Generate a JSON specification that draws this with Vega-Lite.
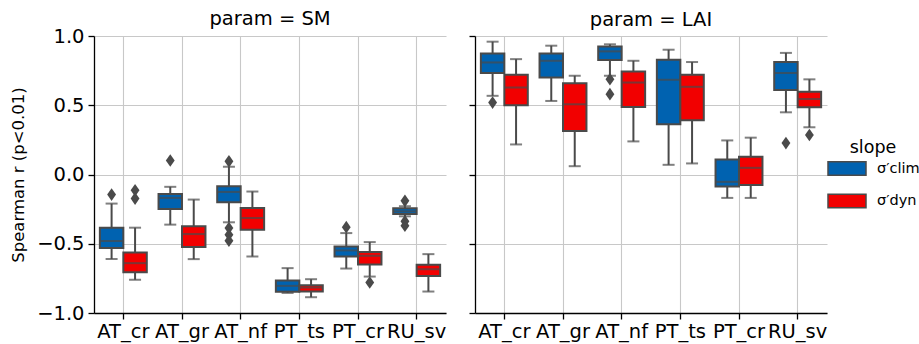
{
  "$schema": "https://vega.github.io/schema/vega-lite/v6.json",
  "padding": {"left": 10, "top": 8, "right": 0, "bottom": 6},
  "config": {
    "font": "DejaVu Sans",
    "view": {"stroke": null},
    "axis": {
      "labelFont": "DejaVu Sans", "titleFont": "DejaVu Sans",
      "labelFontSize": 19.5, "labelColor": "#000000",
      "domainColor": "#000000", "domainWidth": 1.3,
      "tickColor": "#000000", "tickWidth": 1.3, "tickSize": 6,
      "gridColor": "#c8c8c8", "gridWidth": 1.1,
      "titleFontSize": 16.5, "titleFontWeight": "normal", "titleColor": "#000000"
    },
    "title": {"fontSize": 19.5, "fontWeight": "normal", "font": "DejaVu Sans", "color": "#000000"},
    "legend": {"titleFontSize": 17.5, "titleFontWeight": "normal", "labelFontSize": 14.5, "labelFont": "DejaVu Sans", "titleFont": "DejaVu Sans", "titleColor": "#000000", "labelColor": "#000000"}
  },
  "datasets": {
    "stats": [
      {"param": "SM", "site": "AT_cr", "slope": "clim", "lo": -0.61, "q1": -0.53, "med": -0.48, "q3": -0.385, "hi": -0.21},
      {"param": "SM", "site": "AT_cr", "slope": "dyn", "lo": -0.76, "q1": -0.705, "med": -0.64, "q3": -0.563, "hi": -0.384},
      {"param": "SM", "site": "AT_gr", "slope": "clim", "lo": -0.362, "q1": -0.249, "med": -0.169, "q3": -0.14, "hi": -0.089},
      {"param": "SM", "site": "AT_gr", "slope": "dyn", "lo": -0.611, "q1": -0.524, "med": -0.43, "q3": -0.374, "hi": -0.181},
      {"param": "SM", "site": "AT_nf", "slope": "clim", "lo": -0.345, "q1": -0.2, "med": -0.126, "q3": -0.085, "hi": 0.056},
      {"param": "SM", "site": "AT_nf", "slope": "dyn", "lo": -0.592, "q1": -0.399, "med": -0.314, "q3": -0.242, "hi": -0.123},
      {"param": "SM", "site": "PT_ts", "slope": "clim", "lo": -0.855, "q1": -0.846, "med": -0.804, "q3": -0.766, "hi": -0.676},
      {"param": "SM", "site": "PT_ts", "slope": "dyn", "lo": -0.886, "q1": -0.845, "med": -0.816, "q3": -0.8, "hi": -0.756},
      {"param": "SM", "site": "PT_cr", "slope": "clim", "lo": -0.679, "q1": -0.592, "med": -0.548, "q3": -0.519, "hi": -0.423},
      {"param": "SM", "site": "PT_cr", "slope": "dyn", "lo": -0.737, "q1": -0.65, "med": -0.587, "q3": -0.56, "hi": -0.488},
      {"param": "SM", "site": "RU_sv", "slope": "clim", "lo": -0.302, "q1": -0.285, "med": -0.266, "q3": -0.244, "hi": -0.229},
      {"param": "SM", "site": "RU_sv", "slope": "dyn", "lo": -0.845, "q1": -0.732, "med": -0.684, "q3": -0.652, "hi": -0.575},
      {"param": "LAI", "site": "AT_cr", "slope": "clim", "lo": 0.568, "q1": 0.732, "med": 0.809, "q3": 0.874, "hi": 0.959},
      {"param": "LAI", "site": "AT_cr", "slope": "dyn", "lo": 0.217, "q1": 0.5, "med": 0.628, "q3": 0.72, "hi": 0.833},
      {"param": "LAI", "site": "AT_gr", "slope": "clim", "lo": 0.531, "q1": 0.7, "med": 0.821, "q3": 0.874, "hi": 0.93},
      {"param": "LAI", "site": "AT_gr", "slope": "dyn", "lo": 0.06, "q1": 0.314, "med": 0.507, "q3": 0.659, "hi": 0.713},
      {"param": "LAI", "site": "AT_nf", "slope": "clim", "lo": 0.713, "q1": 0.826, "med": 0.889, "q3": 0.925, "hi": 0.94},
      {"param": "LAI", "site": "AT_nf", "slope": "dyn", "lo": 0.239, "q1": 0.488, "med": 0.664, "q3": 0.744, "hi": 0.821},
      {"param": "LAI", "site": "PT_ts", "slope": "clim", "lo": 0.07, "q1": 0.362, "med": 0.684, "q3": 0.828, "hi": 0.901},
      {"param": "LAI", "site": "PT_ts", "slope": "dyn", "lo": 0.08, "q1": 0.391, "med": 0.633, "q3": 0.72, "hi": 0.812},
      {"param": "LAI", "site": "PT_cr", "slope": "clim", "lo": -0.169, "q1": -0.087, "med": -0.053, "q3": 0.109, "hi": 0.246},
      {"param": "LAI", "site": "PT_cr", "slope": "dyn", "lo": -0.169, "q1": -0.075, "med": 0.048, "q3": 0.128, "hi": 0.266},
      {"param": "LAI", "site": "RU_sv", "slope": "clim", "lo": 0.449, "q1": 0.61, "med": 0.733, "q3": 0.813, "hi": 0.878},
      {"param": "LAI", "site": "RU_sv", "slope": "dyn", "lo": 0.341, "q1": 0.485, "med": 0.545, "q3": 0.598, "hi": 0.687}
    ],
    "outliers": [
      {"param": "SM", "site": "AT_cr", "slope": "clim", "value": -0.145},
      {"param": "SM", "site": "AT_cr", "slope": "dyn", "value": -0.114},
      {"param": "SM", "site": "AT_cr", "slope": "dyn", "value": -0.174},
      {"param": "SM", "site": "AT_gr", "slope": "clim", "value": 0.101},
      {"param": "SM", "site": "AT_nf", "slope": "clim", "value": 0.095},
      {"param": "SM", "site": "AT_nf", "slope": "clim", "value": -0.386},
      {"param": "SM", "site": "AT_nf", "slope": "clim", "value": -0.435},
      {"param": "SM", "site": "AT_nf", "slope": "clim", "value": -0.478},
      {"param": "SM", "site": "PT_cr", "slope": "clim", "value": -0.38},
      {"param": "SM", "site": "PT_cr", "slope": "dyn", "value": -0.78},
      {"param": "SM", "site": "RU_sv", "slope": "clim", "value": -0.19},
      {"param": "SM", "site": "RU_sv", "slope": "clim", "value": -0.338},
      {"param": "SM", "site": "RU_sv", "slope": "clim", "value": -0.37},
      {"param": "LAI", "site": "AT_cr", "slope": "clim", "value": 0.519},
      {"param": "LAI", "site": "AT_nf", "slope": "clim", "value": 0.688},
      {"param": "LAI", "site": "AT_nf", "slope": "clim", "value": 0.58},
      {"param": "LAI", "site": "RU_sv", "slope": "clim", "value": 0.227},
      {"param": "LAI", "site": "RU_sv", "slope": "dyn", "value": 0.285}
    ]
  },
  "hconcat": [
    {
      "title": {"text": "param = SM", "offset": -3},
      "width": 352, "height": 277,
      "layer": [
        {
          "data": {"name": "stats"},
          "transform": [{"filter": "datum.param == 'SM'"}],
          "mark": {"type": "rule", "color": "#4a4a4a", "strokeWidth": 2},
          "encoding": {
            "x": {"field": "site", "type": "nominal", "sort": ["AT_cr", "AT_gr", "AT_nf", "PT_ts", "PT_cr", "RU_sv"], "scale": {"paddingInner": 0, "paddingOuter": 0}, "axis": {"title": null, "labelAngle": 0, "bandPosition": 0.5, "grid": true, "labelPadding": 3}},
            "xOffset": {"field": "slope", "type": "nominal", "scale": {"domain": ["clim", "dyn"], "paddingInner": 0, "paddingOuter": 0.25}},
            "y": {"field": "lo", "type": "quantitative", "scale": {"domain": [-1, 1], "nice": false, "zero": false}, "axis": {"title": "Spearman r (p<0.01)", "values": [-1, -0.5, 0, 0.5, 1], "format": ".1f", "grid": true, "titlePadding": 10, "labelPadding": 4}},
            "y2": {"field": "hi"}
          }
        },
        {
          "data": {"name": "stats"},
          "transform": [{"filter": "datum.param == 'SM'"}],
          "mark": {"type": "tick", "color": "#4a4a4a", "size": 12, "thickness": 2},
          "encoding": {
            "x": {"field": "site", "type": "nominal", "sort": ["AT_cr", "AT_gr", "AT_nf", "PT_ts", "PT_cr", "RU_sv"]},
            "xOffset": {"field": "slope", "type": "nominal"},
            "y": {"field": "lo", "type": "quantitative"}
          }
        },
        {
          "data": {"name": "stats"},
          "transform": [{"filter": "datum.param == 'SM'"}],
          "mark": {"type": "tick", "color": "#4a4a4a", "size": 12, "thickness": 2},
          "encoding": {
            "x": {"field": "site", "type": "nominal", "sort": ["AT_cr", "AT_gr", "AT_nf", "PT_ts", "PT_cr", "RU_sv"]},
            "xOffset": {"field": "slope", "type": "nominal"},
            "y": {"field": "hi", "type": "quantitative"}
          }
        },
        {
          "data": {"name": "stats"},
          "transform": [{"filter": "datum.param == 'SM'"}],
          "mark": {"type": "bar", "stroke": "#4a4a4a", "strokeWidth": 2, "opacity": 1},
          "encoding": {
            "x": {"field": "site", "type": "nominal", "sort": ["AT_cr", "AT_gr", "AT_nf", "PT_ts", "PT_cr", "RU_sv"]},
            "xOffset": {"field": "slope", "type": "nominal"},
            "y": {"field": "q1", "type": "quantitative"},
            "y2": {"field": "q3"},
            "color": {"field": "slope", "type": "nominal", "scale": {"domain": ["clim", "dyn"], "range": ["#0062b0", "#f20000"]},
              "legend": {"title": "slope", "orient": "none", "legendX": 733, "legendY": 103, "labelExpr": "datum.value == 'clim' ? 'σ′clim' : 'σ′dyn'", "symbolType": "M-1,-0.35H1V0.35H-1Z", "symbolSize": 1444, "symbolStrokeColor": "#4a4a4a", "symbolStrokeWidth": 1.5, "symbolOpacity": 1, "rowPadding": 2.5, "labelOffset": 10, "titlePadding": -8, "titleAnchor": "middle"}}
          }
        },
        {
          "data": {"name": "stats"},
          "transform": [{"filter": "datum.param == 'SM'"}],
          "mark": {"type": "tick", "color": "#4a4a4a", "size": 22, "thickness": 2},
          "encoding": {
            "x": {"field": "site", "type": "nominal", "sort": ["AT_cr", "AT_gr", "AT_nf", "PT_ts", "PT_cr", "RU_sv"]},
            "xOffset": {"field": "slope", "type": "nominal"},
            "y": {"field": "med", "type": "quantitative"}
          }
        },
        {
          "data": {"name": "outliers"},
          "transform": [{"filter": "datum.param == 'SM'"}],
          "mark": {"type": "point", "shape": "M0,-1L0.7,0L0,1L-0.7,0Z", "filled": true, "color": "#4a4a4a", "size": 160, "opacity": 1},
          "encoding": {
            "x": {"field": "site", "type": "nominal", "sort": ["AT_cr", "AT_gr", "AT_nf", "PT_ts", "PT_cr", "RU_sv"]},
            "xOffset": {"field": "slope", "type": "nominal"},
            "y": {"field": "value", "type": "quantitative"}
          }
        }
      ]
    },
    {
      "title": {"text": "param = LAI", "offset": 5},
      "width": 352, "height": 277,
      "layer": [
        {
          "data": {"name": "stats"},
          "transform": [{"filter": "datum.param == 'LAI'"}],
          "mark": {"type": "rule", "color": "#4a4a4a", "strokeWidth": 2},
          "encoding": {
            "x": {"field": "site", "type": "nominal", "sort": ["AT_cr", "AT_gr", "AT_nf", "PT_ts", "PT_cr", "RU_sv"], "scale": {"paddingInner": 0, "paddingOuter": 0}, "axis": {"title": null, "labelAngle": 0, "bandPosition": 0.5, "grid": true, "labelPadding": 3}},
            "xOffset": {"field": "slope", "type": "nominal", "scale": {"domain": ["clim", "dyn"], "paddingInner": 0, "paddingOuter": 0.25}},
            "y": {"field": "lo", "type": "quantitative", "scale": {"domain": [-1, 1], "nice": false, "zero": false}, "axis": {"title": null, "labels": false, "values": [-1, -0.5, 0, 0.5, 1], "grid": true}},
            "y2": {"field": "hi"}
          }
        },
        {
          "data": {"name": "stats"},
          "transform": [{"filter": "datum.param == 'LAI'"}],
          "mark": {"type": "tick", "color": "#4a4a4a", "size": 12, "thickness": 2},
          "encoding": {
            "x": {"field": "site", "type": "nominal", "sort": ["AT_cr", "AT_gr", "AT_nf", "PT_ts", "PT_cr", "RU_sv"]},
            "xOffset": {"field": "slope", "type": "nominal"},
            "y": {"field": "lo", "type": "quantitative"}
          }
        },
        {
          "data": {"name": "stats"},
          "transform": [{"filter": "datum.param == 'LAI'"}],
          "mark": {"type": "tick", "color": "#4a4a4a", "size": 12, "thickness": 2},
          "encoding": {
            "x": {"field": "site", "type": "nominal", "sort": ["AT_cr", "AT_gr", "AT_nf", "PT_ts", "PT_cr", "RU_sv"]},
            "xOffset": {"field": "slope", "type": "nominal"},
            "y": {"field": "hi", "type": "quantitative"}
          }
        },
        {
          "data": {"name": "stats"},
          "transform": [{"filter": "datum.param == 'LAI'"}],
          "mark": {"type": "bar", "stroke": "#4a4a4a", "strokeWidth": 2, "opacity": 1},
          "encoding": {
            "x": {"field": "site", "type": "nominal", "sort": ["AT_cr", "AT_gr", "AT_nf", "PT_ts", "PT_cr", "RU_sv"]},
            "xOffset": {"field": "slope", "type": "nominal"},
            "y": {"field": "q1", "type": "quantitative"},
            "y2": {"field": "q3"},
            "color": {"field": "slope", "type": "nominal", "scale": {"domain": ["clim", "dyn"], "range": ["#0062b0", "#f20000"]}, "legend": null}
          }
        },
        {
          "data": {"name": "stats"},
          "transform": [{"filter": "datum.param == 'LAI'"}],
          "mark": {"type": "tick", "color": "#4a4a4a", "size": 22, "thickness": 2},
          "encoding": {
            "x": {"field": "site", "type": "nominal", "sort": ["AT_cr", "AT_gr", "AT_nf", "PT_ts", "PT_cr", "RU_sv"]},
            "xOffset": {"field": "slope", "type": "nominal"},
            "y": {"field": "med", "type": "quantitative"}
          }
        },
        {
          "data": {"name": "outliers"},
          "transform": [{"filter": "datum.param == 'LAI'"}],
          "mark": {"type": "point", "shape": "M0,-1L0.7,0L0,1L-0.7,0Z", "filled": true, "color": "#4a4a4a", "size": 160, "opacity": 1},
          "encoding": {
            "x": {"field": "site", "type": "nominal", "sort": ["AT_cr", "AT_gr", "AT_nf", "PT_ts", "PT_cr", "RU_sv"]},
            "xOffset": {"field": "slope", "type": "nominal"},
            "y": {"field": "value", "type": "quantitative"}
          }
        }
      ]
    }
  ],
  "spacing": 22
}
